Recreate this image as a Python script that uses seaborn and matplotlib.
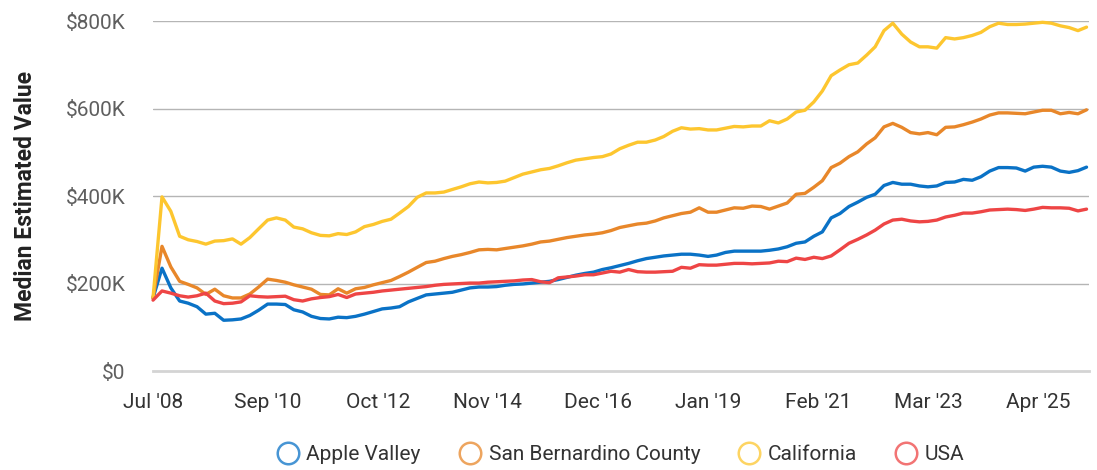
import pandas as pd
import matplotlib.pyplot as plt
import matplotlib.dates as mdates
from matplotlib.lines import Line2D
from matplotlib.ticker import FuncFormatter
import seaborn as sns

# %% data (values in $K, one point every two months from Jul 2008)
start_date = "2008-07-01"

apple_valley = [167, 235, 190, 160, 155, 147, 130, 132, 116, 117,
                119, 127, 139, 153, 153, 152, 140, 135, 125, 120,
                119, 123, 122, 125, 130, 136, 142, 144, 147, 158,
                166, 174, 176, 178, 180, 185, 190, 192, 192, 193,
                196, 198, 199, 201, 203, 205, 209, 214, 219, 223,
                226, 232, 236, 241, 246, 252, 257, 260, 263, 265,
                267, 267, 265, 262, 265, 271, 274, 274, 274, 274,
                276, 279, 284, 292, 295, 308, 318, 350, 360, 376,
                386, 397, 404, 424, 431, 427, 427, 423, 421, 423,
                431, 432, 438, 436, 444, 457, 465, 465, 464, 457,
                466, 468, 466, 457, 454, 458, 466]

san_bernardino = [167, 285, 238, 205, 198, 190, 175, 187, 172, 167,
                  167, 176, 192, 210, 207, 203, 197, 192, 187, 175,
                  174, 188, 178, 188, 191, 197, 202, 207, 216, 226,
                  237, 248, 251, 257, 262, 266, 271, 277, 278, 277,
                  280, 283, 286, 290, 295, 297, 301, 305, 308, 311,
                  313, 316, 321, 328, 332, 336, 338, 343, 350, 355,
                  360, 363, 373, 363, 363, 368, 373, 372, 377, 376,
                  370, 377, 384, 404, 406, 420, 435, 465, 475, 490,
                  501, 519, 533, 558, 566, 557, 545, 542, 545, 540,
                  557, 558, 563, 569, 576, 585, 590, 590, 589, 588,
                  592, 596, 596, 588, 591, 588, 597]

california = [167, 398, 365, 308, 300, 296, 290, 297, 298, 302,
              290, 305, 325, 345, 350, 345, 329, 325, 316, 310,
              309, 314, 312, 318, 330, 335, 342, 347, 361, 376,
              397, 407, 407, 409, 415, 421, 428, 432, 430, 431,
              434, 442, 450, 455, 460, 463, 469, 476, 482, 485,
              488, 490, 496, 508, 516, 523, 523, 528, 536, 548,
              556, 553, 554, 551, 551, 555, 559, 558, 560, 560,
              572, 567, 576, 592, 596, 615, 640, 675, 688, 700,
              704, 722, 741, 778, 795, 770, 752, 741, 741, 738,
              762, 759, 762, 767, 774, 787, 795, 792, 792, 793,
              795, 797, 795, 789, 785, 778, 786]

usa = [162, 183, 178, 172, 169, 172, 178, 160, 154, 155,
       158, 172, 170, 169, 170, 171, 163, 160, 165, 168,
       170, 175, 168, 176, 178, 180, 183, 185, 187, 189,
       191, 193, 196, 198, 199, 200, 201, 201, 203, 204,
       205, 206, 208, 209, 204, 202, 213, 215, 217, 220,
       220, 224, 228, 226, 232, 227, 226, 226, 227, 228,
       237, 235, 243, 242, 242, 244, 246, 246, 245, 246,
       247, 251, 250, 258, 255, 260, 257, 263, 277, 292,
       301, 311, 322, 336, 345, 347, 343, 341, 342, 345,
       352, 356, 361, 361, 364, 368, 369, 370, 369, 367,
       370, 374, 373, 373, 372, 366, 370]

regions = ["Apple Valley", "San Bernardino County", "California", "USA"]
colors = ["#0a72c6", "#e8872a", "#fdc62f", "#ee4545"]
tick_dates = ["2008-07-01", "2010-09-01", "2012-10-01", "2014-11-01", "2016-12-01",
              "2019-01-01", "2021-02-01", "2023-03-01", "2025-04-01"]
y_ticks = [0, 200, 400, 600, 800]

dates = pd.date_range(start_date, periods=len(usa), freq="2MS")
df = pd.DataFrame({"date": dates, regions[0]: apple_valley, regions[1]: san_bernardino,
                   regions[2]: california, regions[3]: usa})
df = df.melt(id_vars="date", var_name="region", value_name="value")

# %% plot
sns.set_theme(style="white")
plt.rcParams["font.family"] = ["Roboto", "DejaVu Sans"]

fig = plt.figure(figsize=(10.97, 4.70), dpi=100)
ax = fig.add_axes([0.1395, 0.2106, 0.8532, 0.7447])

sns.lineplot(data=df, x="date", y="value", hue="region", hue_order=regions,
             palette=dict(zip(regions, colors)), linewidth=2.4, legend=False, ax=ax)
for line in ax.lines:
    line.set_clip_on(False)
    line.set_solid_joinstyle("round")

ax.set_ylim(0, 800)
ax.set_yticks(y_ticks)
ax.yaxis.set_major_formatter(FuncFormatter(lambda v, _: "$0" if v == 0 else f"${v:.0f}K"))
ax.set_xlim(pd.Timestamp("2008-07-01"), pd.Timestamp("2026-03-18"))
ax.set_xticks(pd.to_datetime(tick_dates))
ax.xaxis.set_major_formatter(mdates.DateFormatter("%b '%y"))

ax.yaxis.grid(True, color="#b5b5b5", linewidth=1)
ax.get_ygridlines()[0].set_visible(False)
sns.despine(ax=ax, left=True)
ax.spines["bottom"].set_color("#d4d4d4")
ax.spines["bottom"].set_linewidth(2)

ax.tick_params(axis="y", length=0, pad=20, labelsize=15, labelcolor="#5f5f5f")
ax.tick_params(axis="x", length=0, pad=16, labelsize=15, labelcolor="#333333")

ax.set_xlabel("")
ax.set_ylabel("Median Estimated Value", fontsize=16.5, fontweight="bold", color="#222222")
ax.yaxis.set_label_coords(-0.124, 0.5)

handles = [Line2D([], [], ls="", marker="o", markersize=15.5, markerfacecolor="none",
                  markeredgecolor=c, markeredgewidth=1.8, alpha=0.75) for c in colors]
fig.legend(handles, regions, loc="center", bbox_to_anchor=(0.565, 0.032), ncol=4,
           frameon=False, fontsize=15, handletextpad=0.3, columnspacing=1.75,
           handlelength=1.2, labelcolor="#333333")

fig.savefig("out.png", dpi=100)
